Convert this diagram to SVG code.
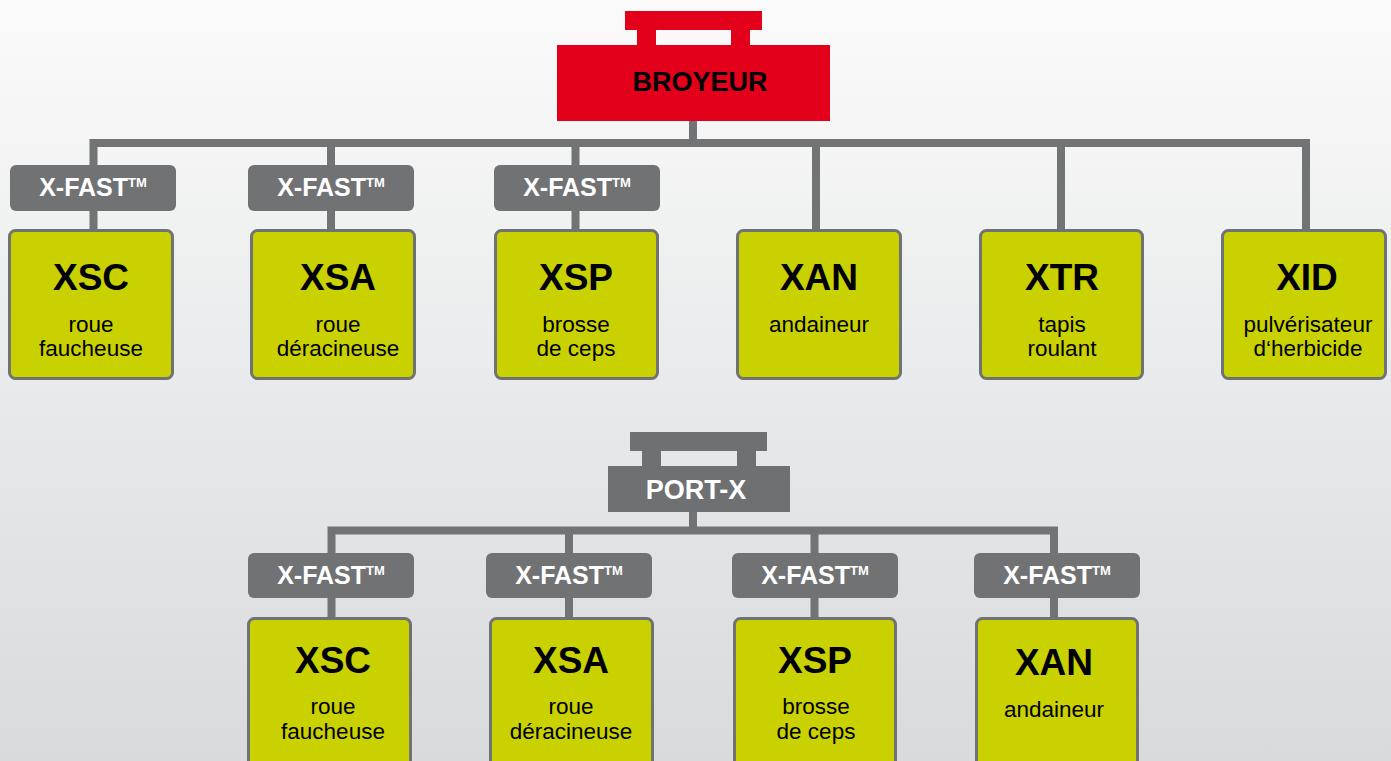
<svg xmlns="http://www.w3.org/2000/svg" width="1391" height="761" viewBox="0 0 1391 761">
<defs>
<linearGradient id="bg" x1="0" y1="0" x2="0" y2="1">
<stop offset="0" stop-color="#fbfbfb"/>
<stop offset="0.5" stop-color="#e9eaeb"/>
<stop offset="1" stop-color="#d9dadc"/>
</linearGradient>
<style>
.conn{fill:none;stroke:#727375;stroke-width:8;stroke-linejoin:miter}
.fast{fill:#717274}
.fastt{font-family:"Liberation Sans",Arial,sans-serif;font-weight:bold;font-size:25px;fill:#ffffff;text-anchor:middle}
.tm{font-size:13px}
.box{fill:#c9d200;stroke:#717274;stroke-width:3}
.code{font-family:"Liberation Sans",Arial,sans-serif;font-weight:bold;font-size:37px;fill:#000;text-anchor:middle}
.sub{font-family:"Liberation Sans",Arial,sans-serif;font-size:22.5px;fill:#000;text-anchor:middle}
.red{fill:#e2001a}
.grey{fill:#6f7072}
.head{font-family:"Liberation Sans",Arial,sans-serif;font-weight:bold;font-size:27px;text-anchor:middle}
</style>
</defs>
<rect x="0" y="0" width="1391" height="761" fill="url(#bg)"/>

<g id="connectors">
<path class="conn" d="M693,121 V143"/>
<path class="conn" d="M93.5,229 V143 H1306 V229"/>
<path class="conn" d="M331,143 V229"/>
<path class="conn" d="M575.5,143 V229"/>
<path class="conn" d="M816,143 V229"/>
<path class="conn" d="M1061,143 V229"/>
<path class="conn" d="M693,512 V530.5"/>
<path class="conn" d="M331.5,617 V530.5 H1054 V617"/>
<path class="conn" d="M569,530.5 V617"/>
<path class="conn" d="M814.5,530.5 V617"/>
</g>

<g id="broyeur">
<rect class="red" x="625" y="11" width="137" height="19"/>
<rect class="red" x="637" y="29" width="19" height="17"/>
<rect class="red" x="731" y="29" width="19" height="17"/>
<rect class="red" x="557" y="45" width="273" height="76"/>
<text class="head" x="700" y="91" fill="#000">BROYEUR</text>
</g>

<g id="fast-top-xsc"><rect class="fast" x="10" y="165" width="166" height="46" rx="6"/><text class="fastt" x="93" y="196">X-FAST<tspan class="tm" dy="-9">TM</tspan></text></g>
<g id="fast-top-xsa"><rect class="fast" x="248" y="165" width="166" height="46" rx="6"/><text class="fastt" x="331" y="196">X-FAST<tspan class="tm" dy="-9">TM</tspan></text></g>
<g id="fast-top-xsp"><rect class="fast" x="494" y="165" width="166" height="46" rx="6"/><text class="fastt" x="577" y="196">X-FAST<tspan class="tm" dy="-9">TM</tspan></text></g>

<g id="top-xsc"><rect class="box" x="9.5" y="230.5" width="163" height="148" rx="6"/><text class="code" x="91" y="290">XSC</text><text class="sub" x="91" y="332">roue</text><text class="sub" x="91" y="356">faucheuse</text></g>
<g id="top-xsa"><rect class="box" x="251.5" y="230.5" width="163" height="148" rx="6"/><text class="code" x="338" y="290">XSA</text><text class="sub" x="338" y="332">roue</text><text class="sub" x="338" y="356">déracineuse</text></g>
<g id="top-xsp"><rect class="box" x="495.5" y="230.5" width="162" height="148" rx="6"/><text class="code" x="576" y="290">XSP</text><text class="sub" x="576" y="332">brosse</text><text class="sub" x="576" y="356">de ceps</text></g>
<g id="top-xan"><rect class="box" x="737.5" y="230.5" width="163" height="148" rx="6"/><text class="code" x="819" y="290">XAN</text><text class="sub" x="819" y="332">andaineur</text></g>
<g id="top-xtr"><rect class="box" x="980.5" y="230.5" width="162" height="148" rx="6"/><text class="code" x="1062" y="290">XTR</text><text class="sub" x="1062" y="332">tapis</text><text class="sub" x="1062" y="356">roulant</text></g>
<g id="top-xid"><rect class="box" x="1222.5" y="230.5" width="163" height="148" rx="6"/><text class="code" x="1307" y="290">XID</text><text class="sub" x="1308" y="332">pulvérisateur</text><text class="sub" x="1308" y="356">d‘herbicide</text></g>

<g id="portx">
<rect class="grey" x="630" y="432" width="137" height="19"/>
<rect class="grey" x="642" y="450" width="19" height="17"/>
<rect class="grey" x="737" y="450" width="19" height="17"/>
<rect class="grey" x="608" y="466" width="182" height="46"/>
<text class="head" x="696" y="499" fill="#ffffff" font-size="26">PORT-X</text>
</g>

<g id="fast-bot-xsc"><rect class="fast" x="248" y="553" width="166" height="45" rx="6"/><text class="fastt" x="331" y="584">X-FAST<tspan class="tm" dy="-9">TM</tspan></text></g>
<g id="fast-bot-xsa"><rect class="fast" x="486" y="553" width="166" height="45" rx="6"/><text class="fastt" x="569" y="584">X-FAST<tspan class="tm" dy="-9">TM</tspan></text></g>
<g id="fast-bot-xsp"><rect class="fast" x="732" y="553" width="166" height="45" rx="6"/><text class="fastt" x="815" y="584">X-FAST<tspan class="tm" dy="-9">TM</tspan></text></g>
<g id="fast-bot-xan"><rect class="fast" x="974" y="553" width="166" height="45" rx="6"/><text class="fastt" x="1057" y="584">X-FAST<tspan class="tm" dy="-9">TM</tspan></text></g>

<g id="bot-xsc"><rect class="box" x="248.5" y="618.5" width="162" height="160" rx="6"/><text class="code" x="333" y="673">XSC</text><text class="sub" x="333" y="714">roue</text><text class="sub" x="333" y="739">faucheuse</text></g>
<g id="bot-xsa"><rect class="box" x="490.5" y="618.5" width="162" height="160" rx="6"/><text class="code" x="571" y="673">XSA</text><text class="sub" x="571" y="714">roue</text><text class="sub" x="571" y="739">déracineuse</text></g>
<g id="bot-xsp"><rect class="box" x="734.5" y="618.5" width="161" height="160" rx="6"/><text class="code" x="815" y="673">XSP</text><text class="sub" x="816" y="714">brosse</text><text class="sub" x="816" y="739">de ceps</text></g>
<g id="bot-xan"><rect class="box" x="976.5" y="618.5" width="161" height="160" rx="6"/><text class="code" x="1054" y="675">XAN</text><text class="sub" x="1054" y="717">andaineur</text></g>
</svg>
